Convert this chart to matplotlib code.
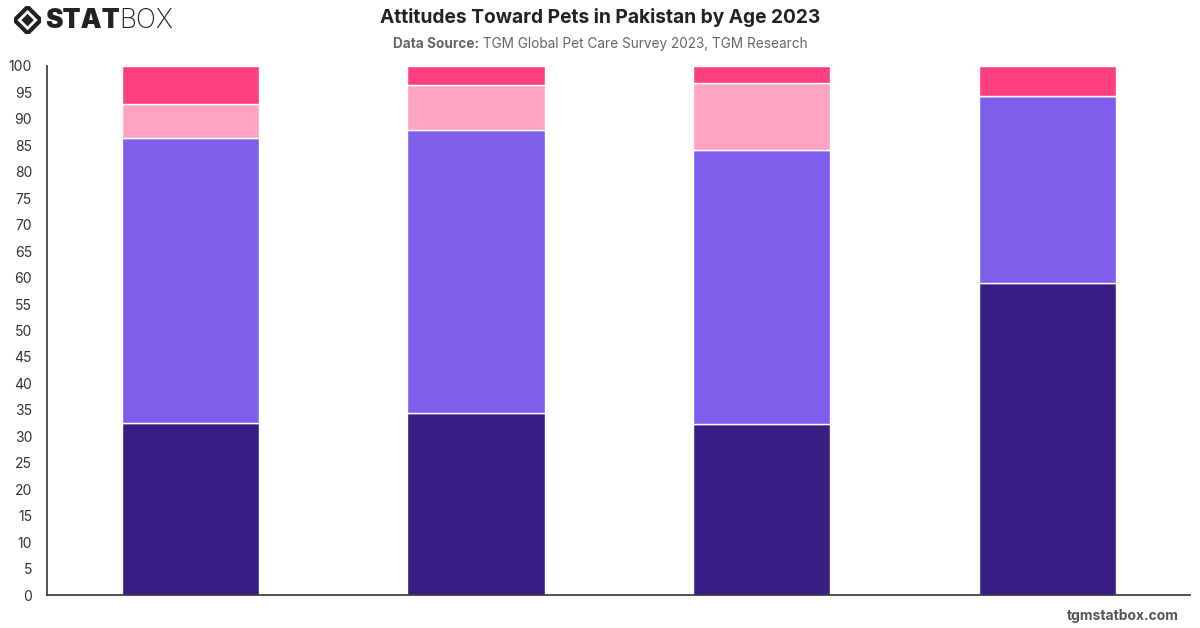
import numpy as np
import matplotlib.pyplot as plt
from matplotlib.patches import Polygon

plt.rcParams['font.family'] = ['Inter', 'DejaVu Sans']

# Age groups (x labels are not shown in the chart)
ages = ["18-24", "25-34", "35-44", "45+"]
series = ["Love pets a lot", "Like pets", "Neutral", "Dislike pets"]
love = [32.5, 34.4, 32.3, 59.0]
like = [53.9, 53.5, 51.8, 35.3]
neutral = [6.4, 8.5, 12.7, 0.0]
dislike = [7.2, 3.6, 3.2, 5.7]
colors = ["#381d84", "#7f5eee", "#ffa3c4", "#ff3f81"]

fig = plt.figure(figsize=(12, 6.28), dpi=100)
ax = fig.add_axes([0.0395, 0.0525, 0.9525, 0.8425])

x = np.arange(len(ages))
bottom = np.zeros(len(ages))
for vals, c, name in zip([love, like, neutral, dislike], colors, series):
    ax.bar(x, vals, width=0.48, bottom=bottom, color=c, edgecolor="white",
           linewidth=1, label=name)
    bottom += np.array(vals)

ax.set_xlim(-0.5, 3.5)
ax.set_ylim(0, 100)
ax.set_yticks(np.arange(0, 101, 5))
ax.set_xticks([])
ax.tick_params(axis="y", length=0, labelsize=10, colors="#333333", pad=11)
for s in ["top", "right"]:
    ax.spines[s].set_visible(False)
for s in ["left", "bottom"]:
    ax.spines[s].set_color("#333333")
    ax.spines[s].set_linewidth(1.2)

renderer = fig.canvas.get_renderer()

def place_after(txt, gap_px=0):
    bb = txt.get_window_extent(renderer)
    return (bb.x1 + gap_px) / fig.bbox.width

# title and source
fig.text(0.5, 0.972, "Attitudes Toward Pets in Pakistan by Age 2023", ha="center",
         va="center", fontsize=13.8, fontweight="bold", color="#222222")
src_bold = fig.text(0, 0.930, "Data Source:", ha="left", va="center", fontsize=9.8,
                    fontweight="bold", color="#666666")
src_rest = fig.text(0, 0.930, " TGM Global Pet Care Survey 2023, TGM Research",
                    ha="left", va="center", fontsize=9.8, color="#666666")
w1 = src_bold.get_window_extent(renderer).width
w2 = src_rest.get_window_extent(renderer).width
x0 = (fig.bbox.width - w1 - w2) / 2
src_bold.set_x(x0 / fig.bbox.width)
src_rest.set_x((x0 + w1) / fig.bbox.width)

# logo
icon = fig.add_axes([0.0115, 0.946, 0.023, 0.044])
icon.set_xlim(-1, 1)
icon.set_ylim(-1, 1)
icon.axis("off")
icon.add_patch(Polygon([[0, 0.95], [0.95, 0], [0, -0.95], [-0.95, 0]], closed=True,
                       facecolor="none", edgecolor="#222222", linewidth=3))
icon.add_patch(Polygon([[0, 0.45], [0.45, 0], [0, -0.45], [-0.45, 0]], closed=True,
                       facecolor="#222222"))
stat = fig.text(0.038, 0.967, "STAT", ha="left", va="center", fontsize=19,
                fontweight="black", color="#222222")
fig.text(place_after(stat, -1), 0.967, "BOX", ha="left", va="center", fontsize=19,
         fontweight="light", color="#222222")

fig.text(0.982, 0.019, "tgmstatbox.com", ha="right", va="center", fontsize=10,
         fontweight="bold", color="#555555")

fig.savefig("out.png", dpi=100)
